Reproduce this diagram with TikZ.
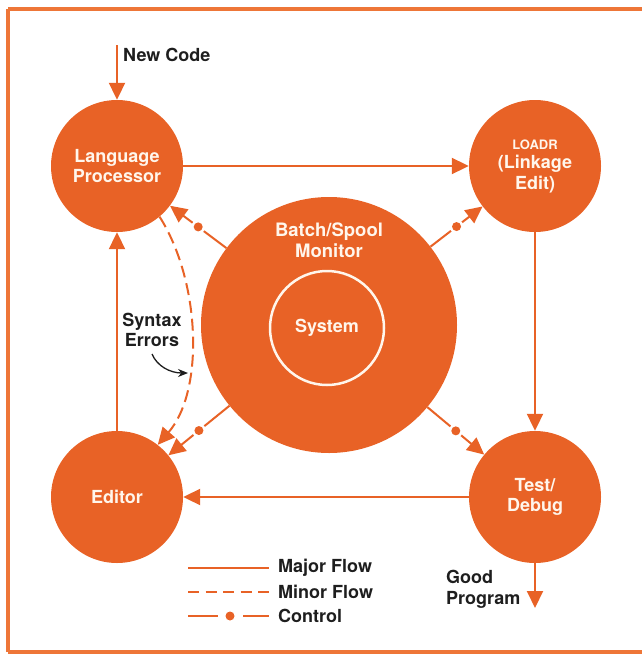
\documentclass[tikz,border=0pt]{standalone}
\usepackage{fontspec}
\setmainfont{TeX Gyre Heros}
\usetikzlibrary{arrows.meta,calc}
\definecolor{hporange}{RGB}{232,98,38}
\definecolor{frameorange}{RGB}{238,118,56}
\definecolor{ink}{RGB}{30,30,30}
\definecolor{cream}{RGB}{255,246,236}
\begin{document}
\begin{tikzpicture}[x=1pt,y=-1pt,
  bubble/.style={circle, fill=hporange, minimum size=132pt, inner sep=0pt, text=cream,
    font=\bfseries\fontsize{18}{20.5}\selectfont, align=center},
  bigtip/.style={-{Triangle[length=17pt,width=16pt]}},
  flow/.style={draw=hporange, line width=2pt, bigtip},
  minor/.style={flow, dash pattern=on 12pt off 6pt},
  ctrl/.style={draw=hporange, line width=2pt},
  ctrldot/.style={fill=hporange},
  lbl/.style={text=ink, font=\bfseries\fontsize{18}{20.5}\selectfont, align=left, inner sep=0pt},
  legline/.style={draw=hporange, line width=2pt},
  frameline/.style={draw=frameorange, line width=4pt}]
\useasboundingbox (0,0) rectangle (642,656);
% frame (open on the right)
\coordinate (f1) at (642,9); \coordinate (f2) at (8,9);
\coordinate (f3) at (8,652); \coordinate (f4) at (642,652);
\draw[frameline] (f1) -- (f2);
\draw[frameline] (f2) -- (f3);
\draw[frameline] (f3) -- (f4);

% nodes
\node[bubble] (lp) at (117,166) {Language\\Processor};
\node[bubble] (ld) at (535,166) {{\fontsize{13}{14}\selectfont LOADR}\\[-1pt](Linkage\\Edit)};
\node[bubble] (ed) at (117,497) {Editor};
\node[bubble] (td) at (535,497) {Test/\\Debug};
\node[circle, fill=hporange, minimum size=256pt, inner sep=0pt] (mon) at (329,325) {};
\node[text=cream, font=\bfseries\fontsize{18.5}{20.5}\selectfont, align=center, inner sep=0pt] (montxt) at (329,240) {Batch/Spool\\Monitor};
\node[circle, draw=cream, line width=2.5pt, minimum size=114pt, inner sep=0pt, text=cream,
  font=\bfseries\fontsize{18}{20.5}\selectfont] (sys) at (327,328) {System};

% major flow
\draw[flow] (lp) -- (ld);
\draw[flow] (ld) -- (td);
\draw[flow] (td) -- (ed);
\draw[flow] (ed) -- (lp);

% new code
\coordinate (nc) at (117,45);
\draw[flow] (nc) -- (lp);
\node[lbl, anchor=west] (nctxt) at (123,55) {New Code};

% good program
\coordinate (gp) at (535,608);
\draw[flow] (td) -- (gp);
\node[lbl, anchor=north west] (gptxt) at (446,570) {Good\\Program};

% syntax errors (minor flow)
\draw[minor] (lp.-50) .. controls (200,280) and (205,390) .. (ed.52);
\node[lbl, align=center] (syn) at (152,330) {Syntax\\Errors};
\coordinate (sa) at (152,354);
\coordinate (sb) at (188,373);
\draw[ink, line width=1.3pt, -{Stealth[length=10pt,width=8pt]}] (sa) .. controls (157,366) and (170,373) .. (sb);

% control arrows
\foreach \t/\n in {lp/c1, ld/c2, ed/c3, td/c4}{
  \path (mon) -- (\t) coordinate[pos=0.5] (\n);
  \draw[ctrl, shorten >=7pt] (mon) -- (\n);
  \fill[ctrldot] (\n) circle (4.5pt);
  \draw[ctrl, bigtip, shorten <=7pt] (\n) -- (\t);
}

% legend
\coordinate (m1) at (188,568); \coordinate (m2) at (269,568);
\coordinate (n1) at (188,592); \coordinate (n2) at (269,592);
\coordinate (k1) at (188,616); \coordinate (k2) at (218,616);
\coordinate (kd) at (230,616);
\coordinate (k3) at (243,616); \coordinate (k4) at (269,616);
\draw[legline] (m1) -- (m2);
\draw[legline, dash pattern=on 11pt off 6.5pt] (n1) -- (n2);
\draw[legline] (k1) -- (k2);
\fill[ctrldot] (kd) circle (4.5pt);
\draw[legline] (k3) -- (k4);
\node[lbl, anchor=west] (lg1) at (278,568) {Major Flow};
\node[lbl, anchor=west] (lg2) at (278,592) {Minor Flow};
\node[lbl, anchor=west] (lg3) at (278,616) {Control};
\end{tikzpicture}
\end{document}
